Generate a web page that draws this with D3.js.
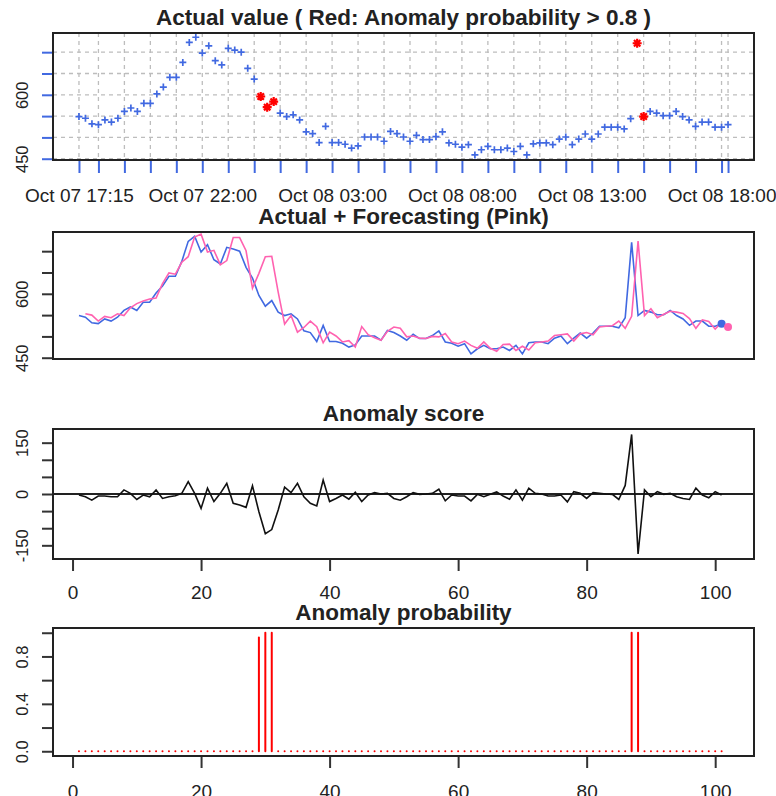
<!DOCTYPE html>
<html>
<head>
<meta charset="utf-8">
<script src="https://cdn.jsdelivr.net/npm/d3@7/dist/d3.min.js"></script>
<style>
  body{margin:0;background:#fff;}
  svg{display:block;font-family:"Liberation Sans",Arial,sans-serif;}
</style>
</head>
<body>
<div id="chart"></div>
<script>
// observed values, one every 15 minutes
const actual = [549,545,532,530,541,536,545,561,569,561,580,580,602,618,641,641,676,723,735,698,
  715,680,670,709,705,700,662,637,596,571,584,557,549,553,541,513,509,488,526,488,
  488,484,475,480,501,501,501,491,514,509,501,491,505,495,495,502,513,487,484,477,
  483,459,471,479,471,471,475,467,479,459,485,487,487,483,496,501,483,496,508,496,
  508,524,524,524,520,544,721,549,561,557,551,551,561,549,541,526,536,536,524,524,530];

// forecast, starts at index 2 and runs one step past the data
const forecastStart = 2;
const forecast = [553,550,536,547,544,553,549,567,577,583,588,590,624,649,646,674,687,733,740,
  698,702,668,678,732,732,701,613,648,687,688,604,529,549,510,521,536,523,485,510,
  501,487,490,475,523,504,497,491,512,522,519,499,501,496,495,500,499,507,487,483,
  489,479,472,487,472,465,481,482,467,477,468,485,487,489,502,504,506,489,506,509,
  504,522,524,525,536,519,547,724,549,565,544,552,559,557,554,542,519,539,535,517,533,522];

const score = [-3,-8,-18,-6,-6,-8,-8,12,2,-16,-3,-8,12,-13,-8,-5,2,36,2,-42,
  17,-22,2,31,-27,-32,-39,24,-52,-116,-104,-47,20,4,31,-8,-27,-35,41,-22,
  -13,-3,-15,5,-22,-3,4,0,2,-13,-18,-8,4,-1,0,2,14,-20,-3,-6,
  -6,-20,-1,-8,-1,6,-6,-15,12,-18,17,2,0,-6,-6,-3,-23,7,2,-13,
  4,2,0,-1,-16,25,174,-175,12,-8,7,-1,2,-8,-13,-16,17,-3,-11,7,-3];

const probability = [0,0,0,0,0,0,0,0,0,0,0,0,0,0,0,0,0,0,0,0,
  0,0,0,0,0,0,0,0,0.96,1,1,0,0,0,0,0,0,0,0,0,
  0,0,0,0,0,0,0,0,0,0,0,0,0,0,0,0,0,0,0,0,
  0,0,0,0,0,0,0,0,0,0,0,0,0,0,0,0,0,0,0,0,
  0,0,0,0,0,0,1,1,0,0,0,0,0,0,0,0,0,0,0,0,0];

const startTime = "2016-10-07T17:15:00Z";
const stepMinutes = 15;
const timeLabels = ["Oct 07 17:15","Oct 07 22:00","Oct 08 03:00","Oct 08 08:00","Oct 08 13:00","Oct 08 18:00"];
const valueTicks = [450,500,550,600,650,700];
const valueLabels = [450,600];
const scoreTicks = [-150,-100,-50,0,50,100,150];
const scoreLabels = [-150,0,150];
const probTicks = [0,0.2,0.4,0.6,0.8,1];
const probLabels = [0,0.4,0.8];
const indexTicks = [0,20,40,60,80,100];
const threshold = 0.8;

const W = 776, H = 796;
const left = 53, right = 754;
const blue = "#4169e1", pink = "#ff62b0", red = "#ff0000", ink = "#222";

const svg = d3.select("#chart").append("svg")
  .attr("width", W).attr("height", H);

svg.append("rect").attr("width", W).attr("height", H).attr("fill", "#fff");

const t0 = new Date(startTime);
const times = actual.map((d, i) => new Date(t0.getTime() + i * stepMinutes * 60000));
const tEnd = times[times.length - 1];

const xTime = d3.scaleUtc()
  .domain([d3.utcHour.offset(t0, -1), d3.utcHour.offset(tEnd, 1)])
  .range([left, right]);

const nIdx = forecastStart + forecast.length - 1;
const pad = (nIdx - 1) * 0.04;
const xIdx = d3.scaleLinear()
  .domain([1 - pad, nIdx + pad])
  .range([left, right]);

function panel(top, bottom, domain, title, ticks, labels, fmt, tickColor) {
  const y = d3.scaleLinear().domain(domain).range([bottom, top]);
  const g = svg.append("g");

  svg.append("text")
    .attr("x", (left + right) / 2)
    .attr("y", top - 8)
    .attr("text-anchor", "middle")
    .attr("font-size", 22.5)
    .attr("font-weight", "bold")
    .attr("fill", ink)
    .text(title);

  const ax = svg.append("g")
    .attr("transform", `translate(${left},0)`)
    .call(d3.axisLeft(y).tickValues(ticks).tickSize(11)
      .tickFormat(d => labels.includes(d) ? fmt(d) : ""));
  ax.select(".domain").remove();
  ax.selectAll("line").attr("stroke", tickColor).attr("stroke-width", 2);
  ax.selectAll("text")
    .attr("transform", "rotate(-90)")
    .attr("x", 0).attr("y", -25).attr("dy", 0)
    .attr("text-anchor", "middle")
    .attr("font-size", 16.5)
    .attr("fill", ink);

  return {y, g, top, bottom};
}

function box(p) {
  svg.append("rect")
    .attr("x", left).attr("y", p.top)
    .attr("width", right - left).attr("height", p.bottom - p.top)
    .attr("fill", "none").attr("stroke", ink).attr("stroke-width", 2);
}

function indexAxis(p, labelY) {
  const ax = svg.append("g")
    .attr("transform", `translate(0,${p.bottom})`)
    .call(d3.axisBottom(xIdx).tickValues(indexTicks).tickSize(12));
  ax.select(".domain").remove();
  ax.selectAll("line").attr("stroke", "#333").attr("stroke-width", 2);
  ax.selectAll("text")
    .attr("y", labelY - p.bottom).attr("dy", 0)
    .attr("font-size", 19).attr("fill", ink);
}

// ---- panel 1: actual values ----
const p1 = panel(33, 160, [447, 745], "Actual value ( Red: Anomaly probability > 0.8 )",
  valueTicks, valueLabels, d => d, blue);

const hourTicks = [t0].concat(d3.utcHour.range(d3.utcHour.ceil(d3.utcMinute.offset(t0, 1)), tEnd), [tEnd]);
const parseLabel = d3.utcParse("%Y %b %d %H:%M");
const labelTimes = timeLabels.map(s => parseLabel("2016 " + s).getTime());
const fmtTime = d3.utcFormat("%b %d %H:%M");

p1.g.selectAll(".vgrid").data(hourTicks).join("line")
  .attr("x1", d => xTime(d)).attr("x2", d => xTime(d))
  .attr("y1", p1.top).attr("y2", p1.bottom)
  .attr("stroke", "#bdbdbd").attr("stroke-width", 1.3).attr("stroke-dasharray", "4,4");

p1.g.selectAll(".hgrid").data(valueTicks).join("line")
  .attr("x1", left).attr("x2", right)
  .attr("y1", d => p1.y(d)).attr("y2", d => p1.y(d))
  .attr("stroke", "#bdbdbd").attr("stroke-width", 1.3).attr("stroke-dasharray", "4,4");

const plus = "M-3.5,0H3.5M0,-3.5V3.5";
const star = "M-4.5,0H4.5M0,-4.5V4.5M-3.2,-3.2L3.2,3.2M-3.2,3.2L3.2,-3.2";

p1.g.selectAll(".pt").data(actual).join("path")
  .attr("transform", (d, i) => `translate(${xTime(times[i])},${p1.y(d)})`)
  .attr("d", (d, i) => probability[i] > threshold ? star : plus)
  .attr("stroke", (d, i) => probability[i] > threshold ? red : blue)
  .attr("stroke-width", (d, i) => probability[i] > threshold ? 2.2 : 1.7)
  .attr("fill", "none");

const tax = svg.append("g")
  .attr("transform", `translate(0,${p1.bottom + 1})`)
  .call(d3.axisBottom(xTime).tickValues(hourTicks).tickSize(12)
    .tickFormat(d => labelTimes.includes(d.getTime()) ? fmtTime(d) : ""));
tax.select(".domain").remove();
tax.selectAll("line").attr("stroke", blue).attr("stroke-width", 2);
tax.selectAll("text")
  .attr("y", 202 - p1.bottom - 1).attr("dy", 0)
  .attr("font-size", 19).attr("fill", ink);

box(p1);

// ---- panel 2: actual + forecast ----
const p2 = panel(232, 359, [447, 745], "Actual + Forecasting (Pink)",
  valueTicks, valueLabels, d => d, "#333");

const line2 = d3.line().x(d => xIdx(d[0])).y(d => p2.y(d[1]));

p2.g.append("path")
  .datum(actual.map((d, i) => [i + 1, d]))
  .attr("d", line2).attr("fill", "none")
  .attr("stroke", blue).attr("stroke-width", 1.6);

p2.g.append("path")
  .datum(forecast.map((d, i) => [i + forecastStart, d]))
  .attr("d", line2).attr("fill", "none")
  .attr("stroke", pink).attr("stroke-width", 1.6);

p2.g.append("circle")
  .attr("cx", xIdx(actual.length)).attr("cy", p2.y(actual[actual.length - 1]))
  .attr("r", 4).attr("fill", blue);
p2.g.append("circle")
  .attr("cx", xIdx(nIdx)).attr("cy", p2.y(forecast[forecast.length - 1]))
  .attr("r", 4).attr("fill", pink);

box(p2);

// ---- panel 3: anomaly score ----
const p3 = panel(429, 559, [-190, 190], "Anomaly score",
  scoreTicks, scoreLabels, d => d, "#333");

p3.g.append("line")
  .attr("x1", left).attr("x2", right)
  .attr("y1", p3.y(0)).attr("y2", p3.y(0))
  .attr("stroke", ink).attr("stroke-width", 2);

p3.g.append("path")
  .datum(score)
  .attr("d", d3.line().x((d, i) => xIdx(i + 1)).y(d => p3.y(d)))
  .attr("fill", "none").attr("stroke", "#111").attr("stroke-width", 1.6);

indexAxis(p3, 599);
box(p3);

// ---- panel 4: anomaly probability ----
const p4 = panel(628, 756, [-0.04, 1.04], "Anomaly probability",
  probTicks, probLabels, d3.format(".1f"), "#333");

p4.g.selectAll(".bar").data(probability).join("line")
  .attr("x1", (d, i) => xIdx(i + 1)).attr("x2", (d, i) => xIdx(i + 1))
  .attr("y1", p4.y(0)).attr("y2", d => p4.y(d))
  .attr("stroke", red).attr("stroke-width", 2)
  .attr("stroke-linecap", "round");

indexAxis(p4, 798);
box(p4);
</script>
</body>
</html>
